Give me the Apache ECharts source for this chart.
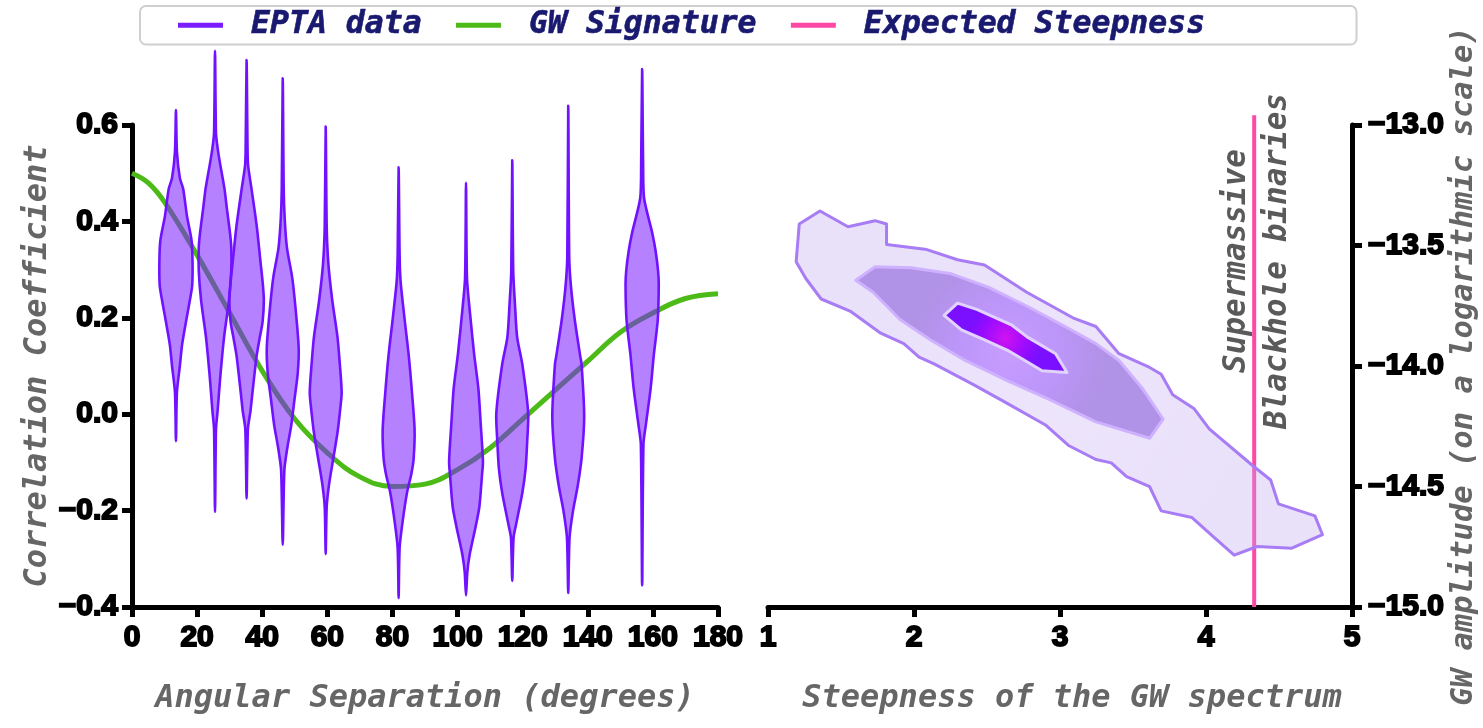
<!DOCTYPE html>
<html>
<head>
<meta charset="utf-8">
<script src="https://cdn.jsdelivr.net/npm/echarts@6/dist/echarts.min.js"></script>
<style>
html,body{margin:0;padding:0;background:#fff;}
#chart{width:1483px;height:728px;}
</style>
</head>
<body>
<div id="chart"></div>
<script>
// ---------------- DATA ----------------
const angleTicks = [0, 20, 40, 60, 80, 100, 120, 140, 160, 180];
// GW signature curve (angle in degrees, correlation)
const gwAngles = [0, 5, 10, 20, 30, 40, 50, 60, 70, 80, 90, 100, 110, 120, 130, 140, 150, 160, 170, 180];
const gwValues = [0.50, 0.48, 0.44, 0.33, 0.21, 0.09, -0.01, -0.08, -0.13, -0.15, -0.145, -0.115, -0.07, -0.01, 0.05, 0.11, 0.17, 0.21, 0.24, 0.25];

// EPTA violins: centre angle and profile [correlation, half-width in degrees], top to bottom
const violinAngles = [13.5, 25.5, 35.2, 46.3, 59.5, 81.9, 102.6, 116.8, 134.0, 156.7];
const violinProfiles = [
  [[0.631,0],[0.545,0.3],[0.49,1.2],[0.468,2.2],[0.43,3.0],[0.41,3.4],[0.36,4.8],[0.314,5.1],[0.268,5.0],[0.245,4.5],[0.2,3.3],[0.145,1.9],[0.1,1.2],[0.045,0.3],[-0.056,0]],
  [[0.754,0],[0.583,0.3],[0.552,0.8],[0.522,1.5],[0.468,2.9],[0.429,3.6],[0.376,4.6],[0.345,5.0],[0.299,5.0],[0.237,4.3],[0.161,2.8],[0.084,1.7],[0.007,0.8],[-0.031,0.3],[-0.203,0]],
  [[0.735,0],[0.545,0.3],[0.514,0.5],[0.468,1.5],[0.391,3.1],[0.314,4.3],[0.276,4.9],[0.237,5.3],[0.191,4.9],[0.161,4.1],[0.122,3.1],[0.045,1.8],[0.007,1.2],[-0.031,0.4],[-0.175,0]],
  [[0.697,0],[0.468,0.3],[0.406,0.6],[0.345,1.3],[0.284,2.9],[0.222,3.9],[0.138,4.9],[0.084,4.6],[0.030,3.6],[-0.024,2.6],[-0.070,1.4],[-0.116,0.5],[-0.271,0]],
  [[0.597,0],[0.391,0.3],[0.314,0.8],[0.237,2.0],[0.161,3.6],[0.107,4.3],[0.045,4.9],[0.007,4.4],[-0.039,3.6],[-0.093,2.3],[-0.147,1.0],[-0.193,0.3],[-0.290,0]],
  [[0.512,0],[0.330,0.3],[0.276,0.6],[0.199,1.8],[0.122,3.1],[0.045,4.1],[-0.032,4.9],[-0.093,4.6],[-0.124,3.9],[-0.162,2.6],[-0.224,1.2],[-0.278,0.3],[-0.381,0]],
  [[0.480,0],[0.282,0.3],[0.211,1.2],[0.124,2.5],[0.053,3.8],[-0.019,4.5],[-0.098,5.2],[-0.127,4.9],[-0.192,4.1],[-0.235,2.9],[-0.292,1.1],[-0.328,0.4],[-0.376,0]],
  [[0.527,0],[0.297,0.3],[0.232,0.8],[0.160,1.5],[0.103,3.1],[0.002,4.9],[-0.055,4.6],[-0.113,4.1],[-0.163,3.1],[-0.228,1.2],[-0.256,0.4],[-0.346,0]],
  [[0.640,0],[0.326,0.3],[0.268,0.8],[0.196,2.0],[0.124,3.6],[0.103,4.1],[-0.005,4.9],[-0.091,4.1],[-0.149,2.9],[-0.199,1.5],[-0.256,0.4],[-0.371,0]],
  [[0.716,0],[0.520,0.3],[0.448,0.6],[0.376,3.1],[0.340,4.1],[0.297,4.9],[0.268,5.1],[0.196,4.8],[0.124,3.6],[0.053,2.6],[-0.019,1.2],[-0.062,0.4],[-0.355,0]]
];

// Posterior contours: [steepness, log10 amplitude]
const contourOuter = [[1.214,-13.411],[1.356,-13.357],[1.548,-13.422],[1.733,-13.397],[1.812,-13.411],[1.812,-13.496],[2.088,-13.517],[2.298,-13.559],[2.483,-13.581],[2.772,-13.694],[3.088,-13.800],[3.246,-13.836],[3.404,-13.949],[3.614,-14.006],[3.693,-14.034],[3.772,-14.119],[3.917,-14.176],[4.022,-14.261],[4.325,-14.416],[4.443,-14.473],[4.496,-14.572],[4.746,-14.622],[4.798,-14.700],[4.588,-14.756],[4.351,-14.749],[4.193,-14.785],[4.061,-14.714],[3.904,-14.629],[3.693,-14.601],[3.614,-14.501],[3.456,-14.459],[3.351,-14.402],[3.246,-14.388],[3.062,-14.331],[2.904,-14.246],[2.614,-14.147],[2.404,-14.076],[2.141,-13.992],[2.035,-13.963],[1.930,-13.907],[1.772,-13.864],[1.562,-13.772],[1.364,-13.722],[1.259,-13.637],[1.193,-13.567]];
const contourMiddle = [[1.601,-13.644],[1.733,-13.588],[1.983,-13.592],[2.246,-13.616],[2.509,-13.673],[2.772,-13.751],[3.035,-13.836],[3.246,-13.907],[3.404,-13.977],[3.562,-14.091],[3.706,-14.22],[3.614,-14.30],[3.246,-14.232],[2.930,-14.140],[2.641,-14.062],[2.351,-13.977],[2.114,-13.892],[1.904,-13.807],[1.720,-13.694]];
const contourInner = [[2.206,-13.790],[2.298,-13.739],[2.430,-13.765],[2.667,-13.829],[2.772,-13.878],[2.970,-13.949],[3.048,-14.027],[2.877,-14.020],[2.641,-13.935],[2.483,-13.892],[2.325,-13.850]];

const expectedSteepness = 4.33;
const steepTicks = [1, 2, 3, 4, 5];
const ampTicks = [-15.0, -14.5, -14.0, -13.5, -13.0];
const corrTicks = [-0.4, -0.2, 0.0, 0.2, 0.4, 0.6];

// ---------------- STYLE ----------------
const MONO = '"DejaVu Sans Mono", monospace';
const NUM = '"Liberation Sans", Arial, sans-serif';
const PURPLE = '#7a1cff';
const GREEN = '#4cbb17';
const PINK = '#ff48a6';

const fmtSigned = v => (v < -1e-9 ? '\u2212' : '') + Math.abs(v).toFixed(1);

const labelStyle = {
  fontFamily: NUM, fontWeight: 'bold', fontSize: 30, color: '#000',
  textBorderColor: '#000', textBorderWidth: 1.9
};
const nameStyle = {
  fontFamily: MONO, fontStyle: 'italic', fontWeight: 'bold', fontSize: 32, color: '#666'
};
const axisCommon = {
  axisLine: { show: true, onZero: false, lineStyle: { color: '#000', width: 5 } },
  axisTick: { show: true, length: 10, lineStyle: { color: '#000', width: 5 } },
  splitLine: { show: false }
};

const chart = echarts.init(document.getElementById('chart'));

const option = {
  animation: false,
  backgroundColor: '#fff',
  legend: {
    left: 140, top: 6,
    padding: [3, 151, 3, 38],
    backgroundColor: '#fff',
    borderColor: '#cfcfcf', borderWidth: 2, borderRadius: 6,
    icon: 'rect', itemWidth: 45, itemHeight: 5, itemGap: 34,
    textStyle: { fontFamily: MONO, fontStyle: 'italic', fontWeight: 'bold', fontSize: 31.5, color: '#191970', padding: [3, 0, 0, 23], textBorderColor: '#191970', textBorderWidth: 0.6 },
    data: ['EPTA data', 'GW Signature', 'Expected Steepness']
  },
  grid: [
    { left: 132, top: 125, width: 586, height: 482, containLabel: false, outerBoundsMode: 'none' },
    { left: 768, top: 125, width: 584, height: 482, containLabel: false, outerBoundsMode: 'none' }
  ],
  xAxis: [
    Object.assign({}, axisCommon, {
      type: 'value', gridIndex: 0, min: angleTicks[0], max: angleTicks[angleTicks.length - 1], interval: 20,
      axisLabel: Object.assign({ margin: 16 }, labelStyle),
      name: 'Angular Separation (degrees)', nameLocation: 'middle', nameGap: 76, nameTextStyle: nameStyle
    }),
    Object.assign({}, axisCommon, {
      type: 'value', gridIndex: 1, min: steepTicks[0], max: steepTicks[steepTicks.length - 1], interval: 1,
      axisLabel: Object.assign({ margin: 16 }, labelStyle),
      name: 'Steepness of the GW spectrum', nameLocation: 'middle', nameGap: 76,
      nameTextStyle: Object.assign({}, nameStyle, { padding: [0, 0, 0, 24] })
    })
  ],
  yAxis: [
    Object.assign({}, axisCommon, {
      type: 'value', gridIndex: 0, min: corrTicks[0], max: corrTicks[corrTicks.length - 1], interval: 0.2,
      axisLabel: Object.assign({ margin: 14, formatter: fmtSigned }, labelStyle),
      name: 'Correlation Coefficient', nameLocation: 'middle', nameGap: 72, nameTextStyle: nameStyle
    }),
    Object.assign({}, axisCommon, {
      type: 'value', gridIndex: 1, position: 'right', min: ampTicks[0], max: ampTicks[ampTicks.length - 1], interval: 0.5,
      axisLabel: Object.assign({ margin: 16, formatter: fmtSigned }, labelStyle),
      name: 'GW amplitude (on a logarithmic scale)', nameLocation: 'middle', nameGap: 90,
      nameTextStyle: Object.assign({}, nameStyle, { fontSize: 30.5 })
    })
  ],
  graphic: [
    {
      type: 'text', x: 1257, y: 261, rotation: Math.PI / 2,
      style: {
        text: 'Supermassive\nBlackhole binaries', fill: '#5a5a5a',
        font: 'italic bold 31px "DejaVu Sans Mono", monospace',
        align: 'center', verticalAlign: 'middle', lineHeight: 41
      }
    }
  ],
  series: [
    {
      name: 'GW Signature', type: 'line', xAxisIndex: 0, yAxisIndex: 0,
      data: gwAngles.map((a, i) => [a, gwValues[i]]),
      smooth: 0.4, symbol: 'none', z: 2,
      lineStyle: { color: GREEN, width: 5 }, itemStyle: { color: GREEN }
    },
    {
      name: 'EPTA data', type: 'custom', xAxisIndex: 0, yAxisIndex: 0, z: 3,
      itemStyle: { color: PURPLE },
      data: violinAngles.map((a, i) => [a, i]),
      renderItem: function (params, api) {
        const cx = api.value(0);
        const prof = violinProfiles[api.value(1)];
        const left = prof.map(p => api.coord([cx - p[1], p[0]]));
        const right = prof.slice(1, -1).reverse().map(p => api.coord([cx + p[1], p[0]]));
        return {
          type: 'polygon',
          shape: { points: left.concat(right), smooth: 0.25 },
          style: { fill: 'rgba(124,30,255,0.56)', stroke: '#7012ff', lineWidth: 2.6, lineJoin: 'round' }
        };
      }
    },
    {
      name: 'Expected Steepness', type: 'line', xAxisIndex: 1, yAxisIndex: 1,
      data: [[expectedSteepness, ampTicks[0]], [expectedSteepness, -12.96]],
      clip: false, symbol: 'none', z: 2,
      lineStyle: { color: PINK, width: 4 }, itemStyle: { color: PINK }
    },
    {
      name: 'contours', type: 'custom', xAxisIndex: 1, yAxisIndex: 1, z: 3,
      data: [[0], [1], [2]],
      renderItem: function (params, api) {
        const idx = api.value(0);
        const poly = [contourOuter, contourMiddle, contourInner][idx];
        const pts = poly.map(p => api.coord(p));
        const styles = [
          { fill: new echarts.graphic.RadialGradient(0.5, 0.5, 0.6, [
              { offset: 0, color: 'rgba(205,182,245,0.36)' },
              { offset: 1, color: 'rgba(192,168,240,0.34)' }]),
            stroke: '#a87cf4', lineWidth: 3 },
          { fill: new echarts.graphic.RadialGradient(0.5, 0.5, 0.55, [
              { offset: 0, color: '#c89cff' },
              { offset: 0.5, color: '#bd96fa' },
              { offset: 1, color: '#b092e6' }]),
            stroke: '#cfb2ff', lineWidth: 3 },
          { fill: new echarts.graphic.RadialGradient(0.5, 0.5, 0.5, [
              { offset: 0, color: '#d012f0' },
              { offset: 0.6, color: '#9a0cff' },
              { offset: 1, color: '#7a10ff' }]),
            stroke: '#e2d2ff', lineWidth: 3 }
        ];
        return { type: 'polygon', shape: { points: pts }, style: Object.assign({ lineJoin: 'round' }, styles[idx]) };
      }
    }
  ]
};

chart.setOption(option);
</script>
</body>
</html>
